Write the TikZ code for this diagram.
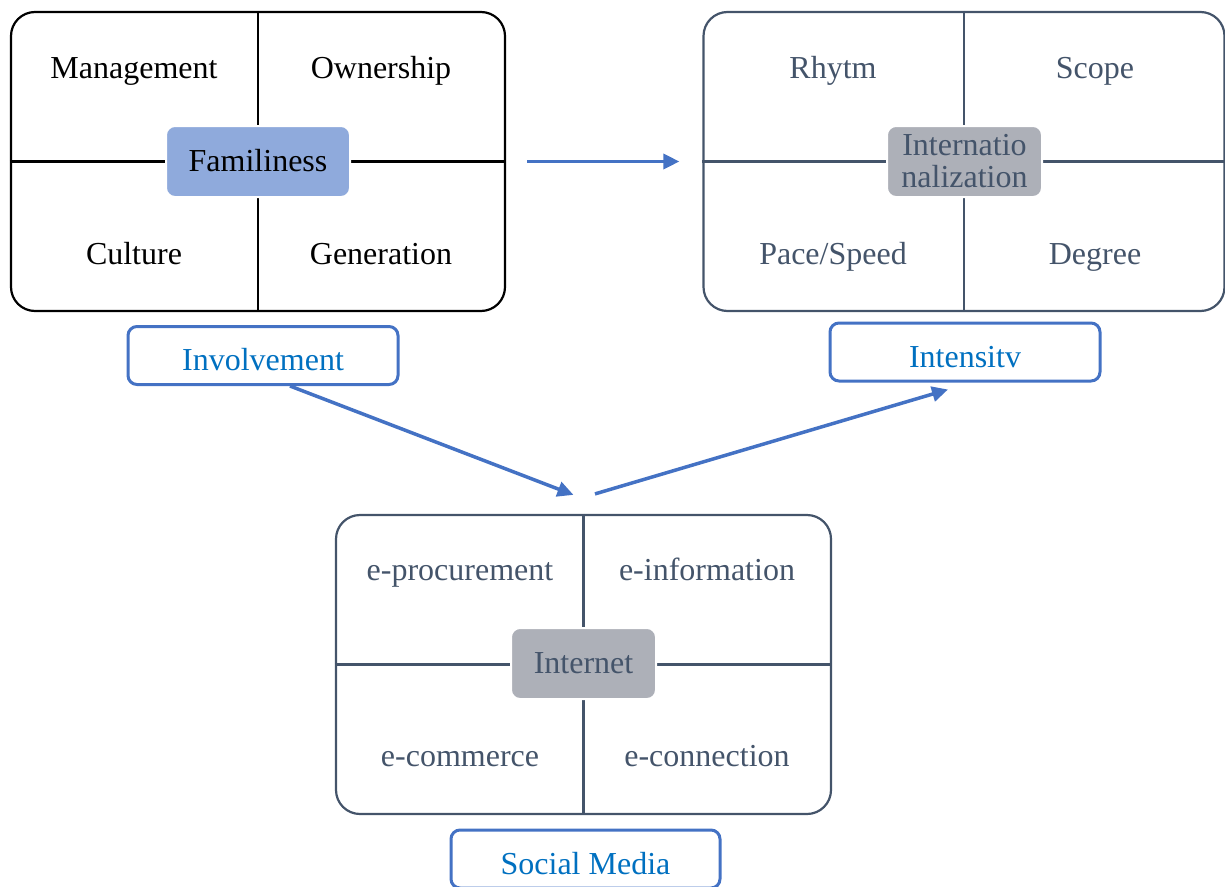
\documentclass[tikz,border=0pt]{standalone}
\usepackage{fontspec}
\setmainfont{Liberation Serif}
\usetikzlibrary{arrows.meta}
\definecolor{slate}{HTML}{44546A}
\definecolor{accent}{HTML}{4472C4}
\definecolor{labeltext}{HTML}{0070C0}
\definecolor{famfill}{HTML}{8FAADC}
\definecolor{hubgray}{HTML}{ADB0B8}
\begin{document}
\begin{tikzpicture}[x=1pt,y=-1pt,
  txt/.style={font=\fontsize{32}{35}\selectfont, text height=22pt, text depth=7pt},
  frame/.style={draw, rounded corners=24pt, line width=2.2pt, inner sep=0pt},
  divider/.style={line width=2.2pt},
  hub/.style={txt, draw=white, line width=2pt, rounded corners=9pt,
    inner sep=0pt, minimum height=71pt, align=center, text depth=2.5pt},
  tag/.style={txt, draw=accent, text=labeltext, line width=3pt,
    rounded corners=9pt, inner sep=0pt, minimum width=270pt, minimum height=58pt,
    text height=30pt, text depth=0pt},
  flow/.style={draw=accent, line width=3.5pt,
    -{Triangle[length=16pt,width=15pt]}}
]
\useasboundingbox (0,0) rectangle (1225,886);

% Familiness panel
\node[frame, draw=black, minimum width=494pt, minimum height=299pt] (f1) at (258,161.5) {};
\draw[divider, black] (f1.north) -- (f1.south);
\draw[divider, black] (f1.west) -- (f1.east);
\node[hub, fill=famfill, text=black, minimum width=184pt] (h1) at (258,161.5) {Familiness};
\node[txt] (q11) at (134,70.5) {Management};
\node[txt] (q12) at (381,70.5) {Ownership};
\node[txt] (q13) at (134,256.5) {Culture};
\node[txt] (q14) at (381,256.5) {Generation};

% Internationalization panel
\node[frame, draw=slate, minimum width=521pt, minimum height=299pt] (f2) at (964,161.5) {};
\draw[divider, slate] (f2.north) -- (f2.south);
\draw[divider, slate] (f2.west) -- (f2.east);
\node[hub, fill=hubgray, text=slate, minimum width=155pt,
  font=\fontsize{32}{32}\selectfont, text height=, text depth=] (h2) at (964.5,161.5) {Internatio\\nalization};
\node[txt, text=slate] (q21) at (833,70.5) {Rhytm};
\node[txt, text=slate] (q22) at (1095,70.5) {Scope};
\node[txt, text=slate] (q23) at (833,256.5) {Pace/Speed};
\node[txt, text=slate] (q24) at (1095,256.5) {Degree};

% Internet panel
\node[frame, draw=slate, minimum width=495pt, minimum height=299pt] (f3) at (583.5,664.5) {};
\draw[divider, slate] (f3.north) -- (f3.south);
\draw[divider, slate] (f3.west) -- (f3.east);
\node[hub, fill=hubgray, text=slate, minimum width=145pt] (h3) at (583.5,663.5) {Internet};
\node[txt, text=slate] (q31) at (460,572.5) {e-procurement};
\node[txt, text=slate] (q32) at (707,572.5) {e-information};
\node[txt, text=slate] (q33) at (460,758.5) {e-commerce};
\node[txt, text=slate] (q34) at (707,758.5) {e-connection};

% Panel labels
\node[tag] (inv) at (263,355.5) {Involvement};
\node[tag] (int) at (965,352) {Intensitv};
\node[tag, minimum width=269pt] (soc) at (585.5,859) {Social Media};

% Flows between panels
\draw[flow] ([xshift=21pt]f1.east) -- ([xshift=-23pt]f2.west);
\draw[flow] ([xshift=27pt]inv.south) -- ([xshift=-10pt,yshift=19pt]f3.north);
\draw[flow] ([xshift=11.5pt,yshift=20pt]f3.north) -- ([xshift=-17pt,yshift=-7pt]int.south);
\end{tikzpicture}
\end{document}
